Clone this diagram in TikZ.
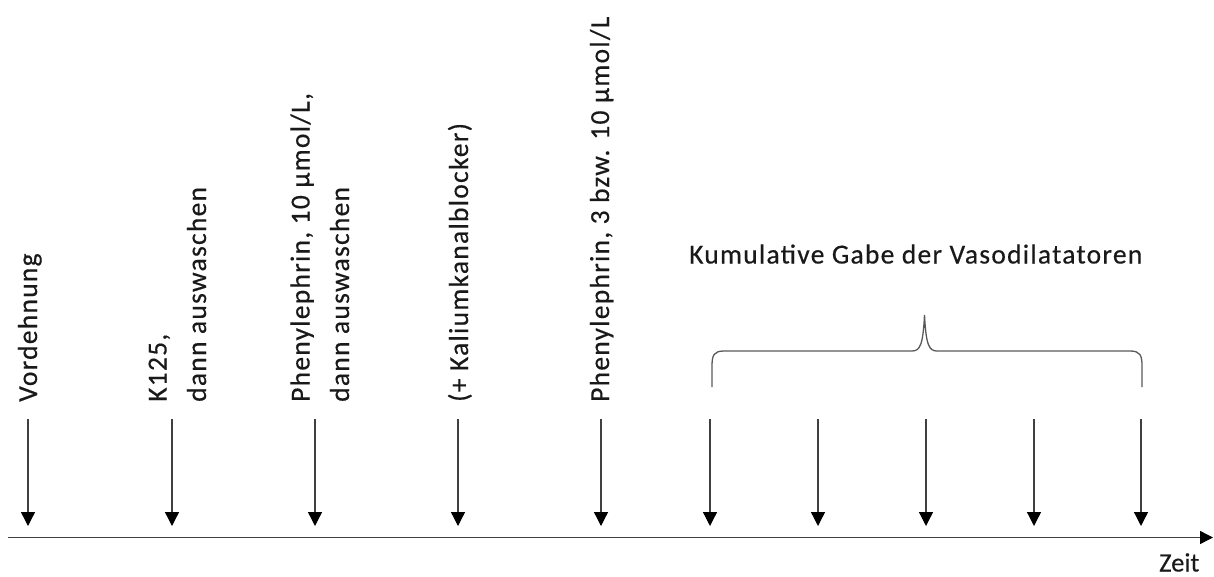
\documentclass[tikz,border=0pt]{standalone}
\usepackage{fontspec}
\setmainfont{Carlito}[LetterSpace=4.6,FakeBold=0.4]
\newfontfamily\plainfont{Carlito}[FakeBold=0.4]
\usetikzlibrary{arrows.meta}
\begin{document}
\begin{tikzpicture}[x=1pt,y=-1pt,
  lbl/.style={inner sep=0pt, font=\fontsize{27.5}{39.5}\selectfont, text=black!90},
  vlbl/.style={lbl, rotate=90, anchor=base west, align=left},
  event/.style={draw=black!75, line width=1.3pt,
    -{Triangle[width=14pt,length=14pt,color=black]}},
  timeline/.style={draw=black!75, line width=1.4pt,
    -{Triangle[width=13pt,length=13pt,color=black]}},
  brace/.style={draw=black!65, line width=1.3pt}]
\useasboundingbox (0,0) rectangle (1214,576);

% time axis
\coordinate (t0) at (8,537.5);
\coordinate (t1) at (1213,537.5);
\draw[timeline] (t0) -- (t1);
\node[lbl, font=\plainfont\fontsize{26.5}{30}\selectfont, anchor=base west] (zeit) at (1159,571.5) {Zeit};

% event arrows
\foreach \n/\x in {a/28,b/172,c/315,d/458,e/601,f/710,g/818,h/926,i/1034,j/1141}{
  \coordinate (\n top) at (\x,419);
  \coordinate (\n bot) at (\x,526);
  \draw[event] (\n top) -- (\n bot);
}

% event labels (anchor = baseline of the last line)
\node[vlbl] (la) at (37,402) {Vordehnung};
\node[vlbl] (lb) at (206,402) {K125,\\dann auswaschen};
\node[vlbl] (lc) at (349,402) {Phenylephrin, 10 µmol/L,\\dann auswaschen};
\node[vlbl] (ld) at (468,402) {(+ Kaliumkanalblocker)};
\node[vlbl] (le) at (609,402) {Phenylephrin, 3 bzw. 10 µmol/L};

% brace over the cumulative doses
\draw[brace] (712,387) -- (712,366)
  .. controls (712,355) and (714,351) .. (724,351) -- (912,351)
  .. controls (920,351) and (923,345) .. (924.5,315)
  .. controls (926,345) and (929,351) .. (937,351) -- (1130,351)
  .. controls (1140,351) and (1142,355) .. (1142,366) -- (1142,387);
\node[lbl, anchor=base west] (cum) at (689,263.5) {Kumulative Gabe der Vasodilatatoren};
\end{tikzpicture}
\end{document}
